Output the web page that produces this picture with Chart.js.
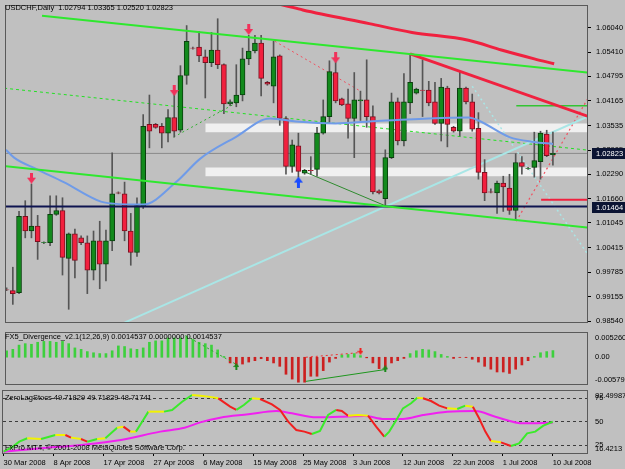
<!DOCTYPE html>
<html>
<head>
<meta charset="utf-8">
<title>USDCHF,Daily</title>
<script src="https://cdn.jsdelivr.net/npm/chart.js@4.4.1/dist/chart.umd.min.js"></script>
<style>
  body { margin: 0; background: #c0c0c0; width: 625px; height: 469px; overflow: hidden; }
  .pane { position: absolute; left: 0; width: 625px; }
  canvas { display: block; }
</style>
</head>
<body>
<div class="pane" style="top:0;height:328px"><canvas id="priceChart" width="625" height="328"></canvas></div>
<div class="pane" style="top:327px;height:63px"><canvas id="divChart" width="625" height="63"></canvas></div>
<div class="pane" style="top:390px;height:79px"><canvas id="stochChart" width="625" height="79"></canvas></div>
<script>
// ---- data (bar index 0 = 30 Mar 2008) ----
const barOpen = [0.99340,0.99315,0.99265,1.01215,1.00840,1.00965,1.00540,1.00540,1.01265,1.01365,
  1.00140,1.00765,1.00665,1.00540,0.99840,1.00590,0.99990,1.00590,1.01815,1.01790,
  1.00840,1.00290,1.01465,1.03565,1.03565,1.03515,1.03340,1.03740,1.03415,1.04815,
  1.05515,1.05540,1.05290,1.05140,1.05465,1.05090,1.04090,1.04115,1.04315,1.05240,
  1.05440,1.05640,1.04640,1.04540,1.05315,1.03715,1.02490,1.03015,1.02315,1.02390,
  1.02415,1.03340,1.03765,1.04890,1.04215,1.04090,1.03715,1.04165,1.04190,1.03765,
  1.01865,1.01665,1.02715,1.04140,1.03140,1.04115,1.04365,1.04440,1.04440,1.04140,
  1.03590,1.04490,1.03490,1.03390,1.04490,1.04140,1.03465,1.02340,1.01840,1.01815,
  1.02065,1.01940,1.01365,1.02590,1.02440,1.02465,1.02615,1.03315,1.02794];
const barHigh = [0.99390,0.99915,1.01340,1.01615,1.02040,1.01240,1.00565,1.01740,1.01740,1.01690,
  1.00790,1.00890,1.00715,1.00715,1.00840,1.01090,1.00865,1.02840,1.01840,1.02090,
  1.01290,1.01690,1.03815,1.04315,1.03590,1.03590,1.03940,1.04340,1.05065,1.06090,
  1.05540,1.05940,1.05465,1.05915,1.06265,1.05115,1.04190,1.05090,1.05515,1.05840,
  1.05840,1.05840,1.04665,1.05690,1.05340,1.03765,1.03165,1.03340,1.02415,1.02740,
  1.03490,1.04190,1.05190,1.05390,1.04240,1.04465,1.04890,1.04415,1.05215,1.04040,
  1.01890,1.02915,1.04365,1.04240,1.04865,1.05365,1.04490,1.05215,1.04665,1.04640,
  1.04740,1.04540,1.03515,1.04915,1.04515,1.04340,1.03865,1.02665,1.01915,1.02115,
  1.02240,1.02290,1.02815,1.02740,1.02465,1.03365,1.03390,1.03415,1.03365];
const barLow = [0.99315,0.98965,0.99240,1.00665,1.00665,1.00115,1.00515,1.00465,1.01240,0.99715,
  0.98840,0.99640,1.00490,0.99240,0.99590,0.99365,0.99565,1.00340,1.01790,1.00590,
  0.99965,1.00190,1.01415,1.02965,1.03465,1.02965,1.03115,1.03240,1.03365,1.04590,
  1.05490,1.05165,1.04240,1.05040,1.04990,1.03840,1.04040,1.04015,1.04165,1.05090,
  1.05390,1.04290,1.04565,1.04115,1.03540,1.02290,1.02340,1.02215,1.02290,1.02290,
  1.02240,1.03315,1.03615,1.04115,1.04040,1.03215,1.02715,1.03665,1.03490,1.01790,
  1.01790,1.01465,1.02690,1.03040,1.03015,1.03840,1.04340,1.03765,1.04040,1.03565,
  1.03140,1.02990,1.03365,1.03265,1.04090,1.03390,1.02165,1.01615,1.01815,1.01290,
  1.01340,1.01265,1.01115,1.02290,1.02415,1.02215,1.02165,1.02740,1.02520];
const barClose = [0.99335,0.99240,1.01215,1.00840,1.00965,1.00565,1.00545,1.01265,1.01365,1.00165,
  1.00765,1.00090,1.00540,0.99840,1.00590,0.99990,1.00590,1.01790,1.01810,1.00840,
  1.00290,1.01490,1.03515,1.03390,1.03490,1.03340,1.03740,1.03390,1.04815,1.05690,
  1.05510,1.05315,1.05140,1.05465,1.05090,1.04090,1.04140,1.04315,1.05240,1.05440,
  1.05640,1.04740,1.04590,1.05290,1.03715,1.02490,1.03040,1.02365,1.02390,1.02385,
  1.03340,1.03765,1.04915,1.04165,1.04065,1.03715,1.04190,1.04190,1.03765,1.01840,
  1.01815,1.02715,1.04140,1.03140,1.04140,1.04640,1.04465,1.04435,1.04115,1.03590,
  1.04515,1.03565,1.03390,1.04490,1.04140,1.03440,1.02340,1.01815,1.01835,1.02065,
  1.01965,1.01365,1.02590,1.02490,1.02445,1.02640,1.03340,1.02765,1.02823];

const priceTicks = [1.06040,1.05410,1.04795,1.04165,1.03535,1.02905,1.02290,1.01660,1.01045,1.00415,0.99785,0.99155,0.98540];
const priceTags = [1.02823, 1.01464];

const dateIdx = [0,8,16,24,32,40,48,56,64,72,80,88];
const dateLabels = ['30 Mar 2008','8 Apr 2008','17 Apr 2008','27 Apr 2008','6 May 2008','15 May 2008',
  '25 May 2008','3 Jun 2008','12 Jun 2008','22 Jun 2008','1 Jul 2008','10 Jul 2008'];

// moving averages, [bar index, price]
const blueMa = [[-0.1,1.02915],[1.2,1.02715],[4.9,1.02415],[9.2,1.02090],[15.2,1.01590],[17.2,1.01540],
  [22,1.01515],[27.3,1.02090],[31.2,1.02690],[36.9,1.03240],[42.4,1.03715],[46.6,1.03640],[53,1.03590],
  [58.4,1.03640],[68,1.03715],[74.4,1.03740],[76,1.03665],[81,1.03240],[84.9,1.03115],[88,1.03065]];
const redMa = [[42,1.06700],[44.5,1.06615],[47.7,1.06490],[58.4,1.06140],[65.3,1.05915],[74.4,1.05715],
  [79.7,1.05465],[85,1.05240],[88.2,1.05115]];

// drawn objects, [bar index, price] anchors
const channelTop = [[5.7,1.06340],[94,1.04885]];
const channelBottom = [[-0.5,1.02500],[94.5,1.00912]];
const redTrend = [[65,1.05365],[94.2,1.03740]];
const cyanTrend = [[19,0.98500],[94.2,1.03805]];
const cyanDotted = [[75,1.04540],[94.5,1.00040]];
const greenDashed = [[-0.4,1.04490],[94.2,1.02897]];
const greenDotted = [[26.9,1.03240],[37,1.04115]];
const redDashed = [[43.2,1.05690],[57,1.04415]];
const redDotted = [[82.1,1.01090],[94.5,1.04465]];
const darkGreen = [[48.2,1.02340],[61.3,1.01465]];
const greenLevel = [[82.1,1.04040],[95,1.04040]];
const redLevel = [[86.1,1.01640],[95,1.01640]];
const navyLevel = [[-1,1.01464],[95,1.01464]];
const bidLevel = [[-1,1.02823],[95,1.02823]];
const zoneStart = 32;
const zoneTop = [1.03590, 1.02465];
const zoneBottom = [1.03365, 1.02240];
const downArrows = [[4,1.02190],[27,1.04430],[39,1.05990],[53,1.05265]];
const upArrows = [[47,1.02090]];

// FX5_Divergence histogram
const divHist = [0.00141,0.00172,0.00264,0.00295,0.00282,0.00325,0.00344,0.00344,0.00325,0.00344,
  0.00295,0.00203,0.00172,0.00123,0.00098,0.0008,0.0008,0.00141,0.00246,0.00233,
  0.00184,0.00172,0.00203,0.00325,0.00356,0.00356,0.00418,0.00418,0.00418,0.00448,
  0.00387,0.00325,0.00295,0.00264,0.0016,0.00018,
  -0.00123,-0.00184,-0.00147,-0.00104,-0.00074,-0.00031,-0.00074,-0.00123,-0.00196,-0.00368,
  -0.00473,-0.0054,-0.0054,-0.00411,-0.00411,-0.00289,-0.00104,-0.00025,
  0.00049,0.00061,0.0008,0.00037,
  -0.00012,-0.00123,-0.00246,-0.00258,-0.00123,-0.00074,-0.00025,
  0.0008,0.00141,0.00172,0.0016,0.00123,0.00061,0.00018,
  -0.00025,-0.00004,-0.00006,
  -0.00043,-0.00104,-0.00196,-0.00258,-0.00319,-0.00319,-0.0035,-0.00258,-0.00166,-0.00074,
  0.00018,0.00098,0.00123,0.00145];
const divGreenDotted = [[28.8,0.00471],[37,-0.00155]];
const divRedDotted = [[48.2,0.0],[57,0.00103]];
const divGreenLine = [[48.2,-0.00522],[61,-0.00265]];
const divUpArrows = [[37,-0.0020],[61,-0.0025]];
const divDownArrows = [[57,0.0013]];

// ZeroLagStocs
const stochIdx = [0,1.5,2.5,3.8,6,7.3,8.3,9.9,10.8,12.4,13.4,15,16.3,18.2,19.2,20.3,21.2,22.2,23.2,24.4,
  25.7,27,28.6,30.2,31.5,32.8,34.4,36.3,37.3,38.5,39.8,41.1,43,44.3,45.6,46.9,48.2,49.4,50.7,52,
  53.3,54.2,55.2,56.8,58.4,59.7,61,61.8,63.1,64,65.3,66.3,67.2,68.5,69.8,71.1,72.7,74,75.2,76.2,
  77.2,78.1,79.7,81.3,82.6,83.9,85.2,86.5,88];
const stochMain = [17.8,23.2,28.5,32.1,31.3,33.8,35.6,35.6,32.8,31.3,28.5,31.3,32.1,43.4,44.5,39.2,39.2,49.8,60.5,60.5,
  60.5,62.3,71.1,78.2,77.5,76.5,74.7,65.8,62.3,67.6,74.7,74.0,68.3,62.3,49.8,40.9,39.2,36.7,39.9,56.9,
  62.3,61.2,56.2,56.9,56.2,44.5,33.8,39.2,53.4,64.0,69.4,75.4,74.7,71.8,66.9,64.0,63.3,66.9,65.8,53.4,
  39.2,29.2,27.8,23.9,26.7,37.4,39.2,45.6,49.72];
const signalIdx = [0,6,12.4,18.8,25.1,29,31.5,34.7,39.2,43.7,46.2,50.1,53.9,57.8,61,64,67.2,71.1,75.6,78.8,83.3,88];
const signalVal = [17.8,21.4,25.0,30.3,39.2,43.4,49.1,54.1,57.6,61.2,58.7,54.4,55.1,55.9,52.7,52.7,56.9,60.5,61.2,55.1,48.0,48.72];
const stochLevels = [75, 50, 25];

// ---- setup ----
const X_MIN = -0.1;
const X_MAX = 93.49;
const FONT = 'Liberation Sans';
Chart.defaults.font.family = FONT;
Chart.defaults.font.size = 7.5;
Chart.defaults.color = '#000';
Chart.defaults.animation = false;

const BULL = '#128a1c', BULL_EDGE = '#0a3f0e';
const BEAR = '#f2203e', BEAR_EDGE = '#7c1020';

function toPoints(list) {
    return list.map(p => ({ x: p[0], y: p[1] }));
}

function lineSet(list, color, width, dash, order) {
    return {
        type: 'line',
        data: toPoints(list),
        borderColor: color,
        borderWidth: width,
        borderDash: dash || [],
        pointRadius: 0,
        fill: false,
        tension: 0,
        order: order || 4
    };
}

function makeArrow(color, down, w, h) {
    const c = document.createElement('canvas');
    c.width = w;
    c.height = h;
    const g = c.getContext('2d');
    g.fillStyle = color;
    const shaft = Math.max(2, Math.round(w / 3));
    const sx = (w - shaft) / 2;
    const head = Math.round(h * 0.55);
    g.beginPath();
    if (down) {
        g.fillRect(sx, 0, shaft, h - head + 1);
        g.moveTo(0, h - head);
        g.lineTo(w, h - head);
        g.lineTo(w / 2, h);
    } else {
        g.fillRect(sx, head - 1, shaft, h - head + 1);
        g.moveTo(0, head);
        g.lineTo(w, head);
        g.lineTo(w / 2, 0);
    }
    g.closePath();
    g.fill();
    return c;
}

function arrowSet(list, img) {
    return {
        type: 'line',
        data: toPoints(list),
        showLine: false,
        pointStyle: img,
        pointRadius: 5,
        order: 1
    };
}

// frame, titles and edge labels of a pane
const framePlugin = {
    id: 'frame',
    beforeDatasetsDraw(chart, args, opts) {
        const { ctx, chartArea: a } = chart;
        if (!opts.levels) return;
        const ys = chart.scales.y;
        ctx.save();
        ctx.strokeStyle = '#3c3c3c';
        ctx.lineWidth = 1;
        ctx.setLineDash([3, 3]);
        opts.levels.forEach(v => {
            const py = Math.round(ys.getPixelForValue(v)) + 0.5;
            ctx.beginPath();
            ctx.moveTo(a.left, py);
            ctx.lineTo(a.right, py);
            ctx.stroke();
        });
        ctx.restore();
    },
    afterDraw(chart, args, opts) {
        const { ctx, chartArea: a } = chart;
        ctx.save();
        ctx.strokeStyle = '#5a5a5a';
        ctx.lineWidth = 1;
        ctx.strokeRect(a.left - 0.5, a.top - 0.5, a.right - a.left + 1, a.bottom - a.top + 1);
        ctx.font = '7.5px "' + FONT + '"';
        ctx.fillStyle = '#000';
        ctx.textAlign = 'left';
        (opts.texts || []).forEach(t => {
            ctx.textBaseline = 'middle';
            ctx.fillText(t.text, t.x, t.y);
        });
        const ys = chart.scales.y;
        (opts.labels || []).forEach(l => {
            let py;
            if (l.base === 'top') {
                ctx.textBaseline = 'top';
                py = a.top + 1;
            } else if (l.base === 'bottom') {
                ctx.textBaseline = 'bottom';
                py = a.bottom;
            } else {
                ctx.textBaseline = 'middle';
                py = ys.getPixelForValue(l.value);
            }
            ctx.fillText(l.text, a.right + 8, py);
        });
        (opts.tags || []).forEach(v => {
            const py = Math.round(ys.getPixelForValue(v));
            ctx.fillStyle = '#0b1433';
            ctx.fillRect(a.right + 5, py - 5, 625 - a.right - 5, 11);
            ctx.fillStyle = '#fff';
            ctx.textBaseline = 'middle';
            ctx.fillText(v.toFixed(5), a.right + 9, py + 0.5);
        });
        ctx.restore();
    }
};

function xScale(show) {
    return {
        type: 'linear',
        min: X_MIN,
        max: X_MAX,
        display: show,
        offset: false,
        grid: { display: false }
    };
}

function quietY(min, max) {
    return {
        position: 'right',
        min: min,
        max: max,
        ticks: { display: false },
        grid: { display: false },
        border: { display: false },
        afterFit(scale) {
            scale.width = 38;
            scale.paddingTop = 0;
            scale.paddingBottom = 0;
        }
    };
}

// ---- price pane ----
function buildPriceChart() {
    const wicks = barOpen.map((o, i) => ({ x: i, y: [barLow[i], barHigh[i]] }));
    const bodies = barOpen.map((o, i) => ({ x: i, y: [o, barClose[i]] }));
    const up = barOpen.map((o, i) => barClose[i] >= o);

    const datasets = [];
    zoneTop.forEach((top, k) => {
        datasets.push({
            type: 'line',
            data: toPoints([[zoneStart, top], [95, top]]),
            borderColor: 'transparent',
            pointRadius: 0,
            fill: false,
            order: 10
        });
        datasets.push({
            type: 'line',
            data: toPoints([[zoneStart, zoneBottom[k]], [95, zoneBottom[k]]]),
            borderColor: 'transparent',
            backgroundColor: 'rgba(248,248,248,0.85)',
            pointRadius: 0,
            fill: '-1',
            order: 10
        });
    });

    datasets.push(lineSet(bidLevel, '#8a8a8a', 1, [], 9));
    datasets.push(lineSet(cyanTrend, '#a9e6e6', 2, [], 8));
    datasets.push(lineSet(cyanDotted, '#a9e6e6', 1.5, [2, 3], 8));
    datasets.push(lineSet(greenDashed, '#22e022', 1, [3, 3], 8));
    datasets.push(lineSet(greenDotted, '#2fb02f', 1, [2, 3], 8));
    datasets.push(lineSet(redDashed, '#f05060', 1, [2, 3], 8));
    datasets.push(lineSet(redDotted, '#f05060', 1.2, [2, 3], 8));
    datasets.push(lineSet(darkGreen, '#2e8b2e', 1, [], 8));

    datasets.push({
        type: 'bar',
        data: wicks,
        backgroundColor: '#555',
        barThickness: 1,
        grouped: false,
        order: 7
    });
    datasets.push({
        type: 'bar',
        data: bodies,
        backgroundColor: up.map(u => (u ? BULL : BEAR)),
        borderColor: up.map(u => (u ? BULL_EDGE : BEAR_EDGE)),
        borderWidth: 1,
        borderSkipped: false,
        barThickness: 5,
        grouped: false,
        order: 6
    });

    datasets.push(Object.assign(lineSet(blueMa, '#6f9be8', 2, [], 5), { cubicInterpolationMode: 'monotone' }));
    datasets.push(Object.assign(lineSet(redMa, '#f0213f', 3, [], 5), { cubicInterpolationMode: 'monotone' }));
    datasets.push(lineSet(channelTop, '#2ee82e', 2, [], 4));
    datasets.push(lineSet(channelBottom, '#2ee82e', 2, [], 4));
    datasets.push(lineSet(redTrend, '#f0213f', 3, [], 4));
    datasets.push(lineSet(navyLevel, '#0e1450', 2, [], 4));
    datasets.push(lineSet(greenLevel, '#33c433', 1.5, [], 4));
    datasets.push(lineSet(redLevel, '#f0213f', 2, [], 4));

    datasets.push(arrowSet(downArrows, makeArrow('#f2305a', true, 9, 11)));
    datasets.push(arrowSet(upArrows, makeArrow('#1a4cff', false, 9, 11)));

    new Chart(document.getElementById('priceChart'), {
        type: 'bar',
        data: { datasets: datasets },
        plugins: [framePlugin],
        options: {
            responsive: false,
            layout: { padding: { left: 3, top: 3, right: 0, bottom: 2 } },
            plugins: {
                legend: { display: false },
                tooltip: { enabled: false },
                frame: {
                    texts: [{ text: 'USDCHF,Daily  1.02794 1.03365 1.02520 1.02823', x: 5, y: 8 }],
                    tags: priceTags
                }
            },
            scales: {
                x: xScale(false),
                y: {
                    position: 'right',
                    min: 0.98515,
                    max: 1.0659,
                    afterBuildTicks(scale) {
                        scale.ticks = priceTicks.map(v => ({ value: v }));
                    },
                    afterFit(scale) {
                        scale.width = 38;
                        scale.paddingTop = 0;
                        scale.paddingBottom = 0;
                    },
                    ticks: {
                        autoSkip: false,
                        padding: 5,
                        callback: v => Number(v).toFixed(5)
                    },
                    grid: { drawOnChartArea: false, drawTicks: true, tickLength: 4, tickColor: '#000' },
                    border: { display: false }
                }
            }
        }
    });
}

// ---- divergence pane ----
function buildDivChart() {
    const bars = divHist.map((v, i) => ({ x: i, y: v }));
    new Chart(document.getElementById('divChart'), {
        type: 'bar',
        data: {
            datasets: [
                {
                    type: 'bar',
                    data: bars,
                    backgroundColor: divHist.map(v => (v >= 0 ? '#3dd03d' : '#cc2020')),
                    barThickness: 2,
                    grouped: false,
                    order: 5
                },
                lineSet(divGreenDotted, '#28a828', 1, [2, 3], 3),
                lineSet(divRedDotted, '#f03030', 1, [2, 3], 3),
                lineSet(divGreenLine, '#1e961e', 1, [], 3),
                arrowSet(divUpArrows, makeArrow('#1a8a1a', false, 6, 7)),
                arrowSet(divDownArrows, makeArrow('#f02020', true, 6, 7))
            ]
        },
        plugins: [framePlugin],
        options: {
            responsive: false,
            layout: { padding: { left: 3, top: 2, right: 0, bottom: 1 } },
            plugins: {
                legend: { display: false },
                tooltip: { enabled: false },
                frame: {
                    texts: [{ text: 'FX5_Divergence_v2.1(12,26,9) 0.0014537 0.0000000 0.0014537', x: 5, y: 10 }],
                    labels: [
                        { text: '0.005260', base: 'top' },
                        { text: '0.00', value: 0 },
                        { text: '-0.00579', base: 'bottom' }
                    ]
                }
            },
            scales: {
                x: xScale(false),
                y: quietY(-0.00579, 0.00526)
            }
        }
    });
}

// ---- stochastic pane ----
function buildStochChart() {
    const mainPts = stochIdx.map((x, i) => ({ x: x, y: stochMain[i] }));
    const sigPts = signalIdx.map((x, i) => ({ x: x, y: signalVal[i] }));
    new Chart(document.getElementById('stochChart'), {
        type: 'line',
        data: {
            datasets: [
                {
                    data: sigPts,
                    borderColor: '#f020f0',
                    borderWidth: 2,
                    pointRadius: 0,
                    tension: 0.3,
                    cubicInterpolationMode: 'monotone',
                    order: 2
                },
                {
                    data: mainPts,
                    borderColor: '#3bea2b',
                    borderWidth: 2,
                    pointRadius: 0,
                    order: 1,
                    segment: {
                        borderColor: ctx => {
                            const dx = ctx.p1.parsed.x - ctx.p0.parsed.x;
                            const slope = (ctx.p1.parsed.y - ctx.p0.parsed.y) / dx;
                            if (slope > 1.2) return '#3bea2b';
                            if (slope < -1.2) return '#f02020';
                            return '#f2f200';
                        }
                    }
                }
            ]
        },
        plugins: [framePlugin],
        options: {
            responsive: false,
            layout: { padding: { left: 3, top: 1, right: 0, bottom: 1 } },
            plugins: {
                legend: { display: false },
                tooltip: { enabled: false },
                frame: {
                    levels: stochLevels,
                    texts: [
                        { text: 'ZeroLagStocs 49.71829 49.71829 48.71741', x: 5, y: 8 },
                        { text: 'FxPro MT4, \u00a9 2001-2008 MetaQuotes Software Corp.', x: 5, y: 58 }
                    ],
                    labels: [
                        { text: '82.49987', base: 'top' },
                        { text: '75', value: 75 },
                        { text: '50', value: 50 },
                        { text: '25', value: 25 },
                        { text: '16.4213', base: 'bottom' }
                    ]
                }
            },
            scales: {
                x: {
                    type: 'linear',
                    min: X_MIN,
                    max: X_MAX,
                    offset: false,
                    afterBuildTicks(scale) {
                        scale.ticks = dateIdx.map(v => ({ value: v }));
                    },
                    afterFit(scale) {
                        scale.height = 15;
                        scale.paddingLeft = 0;
                        scale.paddingRight = 0;
                    },
                    ticks: {
                        autoSkip: false,
                        maxRotation: 0,
                        align: 'start',
                        padding: 2,
                        callback: v => dateLabels[dateIdx.indexOf(v)]
                    },
                    grid: { drawOnChartArea: false, drawTicks: true, tickLength: 3, tickColor: '#000' },
                    border: { display: false }
                },
                y: quietY(16.4213, 82.49987)
            }
        }
    });
}

document.addEventListener('DOMContentLoaded', () => {
    buildPriceChart();
    buildDivChart();
    buildStochChart();
});
</script>
</body>
</html>
